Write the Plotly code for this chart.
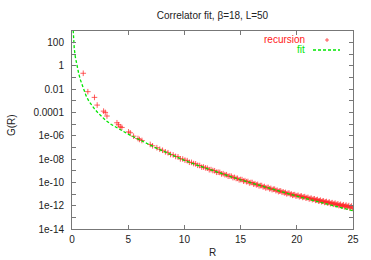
import numpy as np
import plotly.graph_objects as go

# ---- data (G values stored as log10) ----
fit_R = [0.08, 0.1, 0.15, 0.2, 0.3, 0.4, 0.5, 0.6, 0.75, 1.0, 1.25, 1.5, 1.75, 2.0, 2.25, 2.5,
         3.0, 3.5, 4.0, 4.5, 5.0, 5.5, 6.0, 6.5, 7.0, 7.5, 8.0, 9.0, 10.0, 11.0, 12.0, 13.0,
         14.0, 15.0, 16.0, 17.0, 18.0, 19.0, 20.0, 21.0, 22.0, 23.0, 24.0, 25.0]
fit_log10G = [3.5, 3.0, 2.1, 1.5, 0.75, 0.15, -0.3, -0.66, -1.2, -1.95, -2.55, -3.02, -3.38, -3.68,
              -3.96, -4.22, -4.68, -5.03, -5.33, -5.6, -5.86, -6.1, -6.35, -6.59, -6.82, -7.05,
              -7.27, -7.70, -8.10, -8.47, -8.82, -9.15, -9.47, -9.78, -10.07, -10.36, -10.64,
              -10.91, -11.18, -11.44, -11.70, -11.95, -12.20, -12.44]

rec_R = [1.0, 1.41, 2.0, 2.24, 2.81, 2.96, 3.11, 4.0, 4.14, 4.29, 4.44, 5.03, 5.18, 5.48, 5.87,
         6.0, 6.22, 6.96, 7.17,
         7.55, 7.81, 8.06, 8.31, 8.54, 8.77, 9.0, 9.22, 9.43, 9.64, 9.85, 10.05, 10.25, 10.44,
         10.63, 10.82, 11.0, 11.18, 11.36, 11.54, 11.7, 11.87, 12.04, 12.21, 12.37, 12.53, 12.69,
         12.85, 13.0, 13.15, 13.3, 13.45, 13.6, 13.75, 13.89, 14.04, 14.18, 14.32, 14.46, 14.6,
         14.73, 14.87, 15.0, 15.13, 15.26, 15.39, 15.52, 15.65, 15.78, 15.91, 16.03, 16.16,
         16.28, 16.4, 16.52, 16.64, 16.76, 16.88, 17.0, 17.12, 17.23, 17.35, 17.46, 17.58,
         17.69, 17.8, 17.92, 18.03, 18.14, 18.25, 18.36, 18.47, 18.57, 18.68, 18.79, 18.89,
         19.0, 19.1, 19.21, 19.31, 19.42, 19.52, 19.62, 19.72, 19.82, 19.92, 20.02, 20.12,
         20.22, 20.32, 20.42, 20.52, 20.62, 20.71, 20.81, 20.9, 21.0, 21.1, 21.19, 21.29,
         21.38, 21.47, 21.57, 21.66, 21.75, 21.84, 21.93, 22.02, 22.11, 22.2, 22.29, 22.38,
         22.46, 22.55, 22.64, 22.72, 22.81, 22.9, 22.98, 23.07, 23.15, 23.24, 23.32, 23.41,
         23.49, 23.57, 23.66, 23.74, 23.82, 23.9, 23.99, 24.07, 24.15, 24.23, 24.31, 24.39,
         24.47, 24.55, 24.63, 24.71, 24.79, 24.87, 24.95]
rec_log10G = [-0.63, -2.21, -2.7, -3.36, -3.88, -3.99, -4.3, -4.88, -5.05, -5.22, -5.28, -5.66,
              -5.74, -6.03, -6.23, -6.31, -6.4, -6.74, -6.86,
              -7.02, -7.15, -7.24, -7.38, -7.45, -7.60, -7.64, -7.77, -7.80, -7.98, -7.99, -8.09,
              -8.13, -8.27, -8.28, -8.38, -8.41, -8.53, -8.55, -8.69, -8.68, -8.75, -8.78, -8.91,
              -8.90, -8.98, -9.00, -9.13, -9.12, -9.14, -9.27, -9.25, -9.34, -9.34, -9.47, -9.45,
              -9.47, -9.59, -9.57, -9.66, -9.65, -9.78, -9.75, -9.76, -9.89, -9.85, -9.94, -9.92,
              -10.05, -10.01, -10.01, -10.15, -10.11, -10.21, -10.17, -10.30, -10.27, -10.27,
              -10.39, -10.35, -10.47, -10.44, -10.43, -10.55, -10.51, -10.62, -10.59, -10.58,
              -10.71, -10.67, -10.79, -10.75, -10.73, -10.85, -10.81, -10.90, -10.86, -10.98,
              -10.94, -10.92, -11.04, -11.00, -11.11, -11.06, -11.05, -11.17, -11.14, -11.11,
              -11.23, -11.19, -11.17, -11.29, -11.25, -11.22, -11.35, -11.31, -11.29, -11.42,
              -11.38, -11.36, -11.48, -11.44, -11.41, -11.54, -11.51, -11.47, -11.60, -11.57,
              -11.53, -11.66, -11.62, -11.59, -11.72, -11.68, -11.64, -11.77, -11.73, -11.69,
              -11.83, -11.79, -11.74, -11.88, -11.84, -11.78, -11.93, -11.89, -11.84, -11.99,
              -11.94, -11.88, -12.04, -11.99, -11.92, -12.09, -12.02, -11.95, -12.13, -12.06,
              -11.99, -12.18, -12.10, -12.03, -12.22]

x_ticks = [0, 5, 10, 15, 20, 25]
y_tick_exps = list(range(-14, 4))
y_tick_labels = ["1e-14", "", "1e-12", "", "1e-10", "", "1e-08", "", "1e-06", "",
                 "0.0001", "", "0.01", "", "1", "", "100", ""]

title_text = "Correlator fit, \u03b2=18, L=50"
x_title = "R"
y_title = "G(R)"
series_names = ["recursion", "fit"]

# ---- figure ----
FONT = "Liberation Sans, Arial, sans-serif"
RED_M = "rgba(255,40,40,0.75)"
RED_T = "#ff2020"
GREEN = "#00e600"

fit_G = np.power(10.0, np.array(fit_log10G))
rec_G = np.power(10.0, np.array(rec_log10G))

fig = go.Figure()
fig.add_trace(go.Scatter(
    x=rec_R, y=rec_G, mode="markers", name=series_names[0],
    marker=dict(symbol="cross-thin", size=4, color=RED_M,
                line=dict(color=RED_M, width=1)),
    showlegend=False))
fig.add_trace(go.Scatter(
    x=fit_R, y=fit_G, mode="lines", name=series_names[1],
    line=dict(color=GREEN, width=1.3, dash="3px,2px"), showlegend=False))

W, H = 371, 260
L, R_, T, B = 72, 18, 31, 31
pw, ph = W - L - R_, H - T - B


def px(x):
    return (x - L) / pw


def py(y):
    return (H - B - y) / ph


annotations = [
    dict(text=x_title, x=px(212), y=py(253), xref="paper", yref="paper",
         xanchor="center", yanchor="middle",
         showarrow=False, font=dict(size=10, color="#222", family=FONT)),
    dict(text=y_title, x=px(12), y=py(125), xref="paper", yref="paper", textangle=-90,
         xanchor="center", yanchor="middle",
         showarrow=False, font=dict(size=10, color="#222", family=FONT)),
    dict(text=series_names[0], x=px(307), y=py(40), xref="paper", yref="paper",
         xanchor="right", yanchor="middle", showarrow=False,
         font=dict(size=10, color=RED_T, family=FONT)),
    dict(text=series_names[1], x=px(307), y=py(50), xref="paper", yref="paper",
         xanchor="right", yanchor="middle", showarrow=False,
         font=dict(size=10, color=GREEN, family=FONT)),
]
shapes = [
    dict(type="line", xref="paper", yref="paper", x0=px(325), x1=px(329), y0=py(40), y1=py(40),
         line=dict(color=RED_M, width=1)),
    dict(type="line", xref="paper", yref="paper", x0=px(327), x1=px(327), y0=py(38), y1=py(42),
         line=dict(color=RED_M, width=1)),
    dict(type="line", xref="paper", yref="paper", x0=px(313), x1=px(340), y0=py(50), y1=py(50),
         line=dict(color=GREEN, width=1.3, dash="3px,2px")),
]

fig.update_layout(
    width=W, height=H,
    margin=dict(l=L, r=R_, t=T, b=B),
    paper_bgcolor="white", plot_bgcolor="white",
    font=dict(family=FONT, size=10, color="#222"),
    title=dict(text=title_text, x=0.5, xref="paper", y=1 - 15 / H, yref="container",
               xanchor="center", yanchor="middle", font=dict(size=10, color="#222", family=FONT)),
    annotations=annotations, shapes=shapes,
    xaxis=dict(range=[0, 25], tickvals=x_ticks, ticks="inside", ticklen=4, tickcolor="#777",
               showline=True, linecolor="#777", linewidth=1, mirror="allticks",
               showgrid=False, zeroline=False, tickfont=dict(size=10, color="#222"),
               ticklabelstandoff=1),
    yaxis=dict(type="log", range=[-14, 3], tickvals=[10.0 ** e for e in y_tick_exps],
               ticktext=y_tick_labels, ticks="inside", ticklen=4, tickcolor="#777",
               showline=True, linecolor="#777", linewidth=1, mirror="allticks",
               showgrid=False, zeroline=False, tickfont=dict(size=10, color="#222"),
               ticklabelstandoff=5),
)

fig.write_html("out.html", config={"displayModeBar": False},
               post_script="document.body.style.margin='0';document.body.style.padding='0';")
